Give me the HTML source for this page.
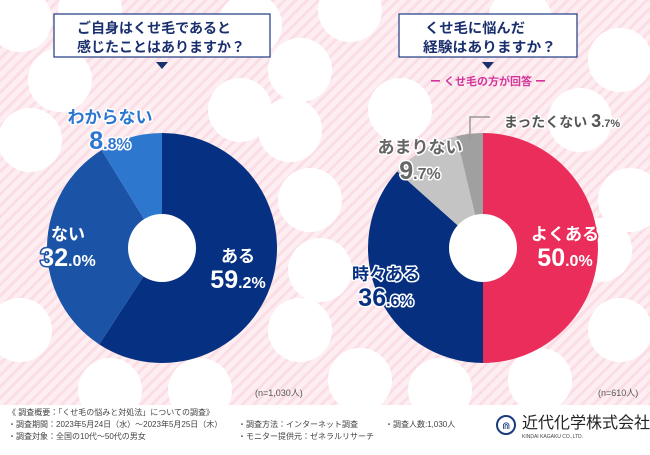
<!DOCTYPE html>
<html><head><meta charset="utf-8">
<style>
html,body{margin:0;padding:0;}
body{width:650px;height:450px;overflow:hidden;font-family:"Liberation Sans","Noto Sans CJK JP",sans-serif;}
svg text{font-family:"Liberation Sans","Noto Sans CJK JP",sans-serif;}
</style></head>
<body>
<svg id="c" width="650" height="450" xmlns="http://www.w3.org/2000/svg">
<defs>
<pattern id="st" width="8" height="8" patternUnits="userSpaceOnUse" patternTransform="rotate(45)">
<rect width="8" height="8" fill="#fdeef2"/><rect width="3" height="8" fill="#fbdde5"/>
</pattern>
</defs>
<rect width="650" height="405" fill="url(#st)"/>
<g id="bubbles" fill="#fff"></g>
<rect y="405" width="650" height="45" fill="#fff"/>

<g>
<rect x="54" y="14" width="216" height="43" fill="#fff" stroke="#1a3a80" stroke-width="1.2"/>
<text x="77" y="33" font-size="14" font-weight="bold" fill="#1a2f6e" textLength="154" lengthAdjust="spacingAndGlyphs">ご自身はくせ毛であると</text>
<text x="77" y="52" font-size="14" font-weight="bold" fill="#1a2f6e" textLength="168" lengthAdjust="spacingAndGlyphs">感じたことはありますか？</text>
<polygon points="156,62 168,62 162,69" fill="#1a2f6e"/>
</g>
<g>
<rect x="399" y="14" width="178" height="43" fill="#fff" stroke="#1a3a80" stroke-width="1.2"/>
<text x="425" y="33" font-size="14" font-weight="bold" fill="#1a2f6e" textLength="100" lengthAdjust="spacingAndGlyphs">くせ毛に悩んだ</text>
<text x="423" y="52" font-size="14" font-weight="bold" fill="#1a2f6e" textLength="133" lengthAdjust="spacingAndGlyphs">経験はありますか？</text>
<polygon points="482,62 494,62 488,69" fill="#1a2f6e"/>
<text x="488" y="85" font-size="11" fill="#d4359a" text-anchor="middle" font-weight="bold">ー くせ毛の方が回答 ー</text>
</g>

<g id="pies"></g>
<g id="labels" font-weight="bold" stroke-linejoin="round"></g>

<polyline points="470,140 470,117 490,117" fill="none" stroke="#999" stroke-width="1.5"/>

<text x="255" y="396" font-size="9" fill="#555">(n=1,030人)</text>
<text x="598" y="396" font-size="9" fill="#555">(n=610人)</text>

<g font-size="8" fill="#444">
<text x="8" y="415">《 調査概要：「くせ毛の悩みと対処法」についての調査》</text>
<text x="8" y="427">・調査期間：2023年5月24日（水）～2023年5月25日（木）</text>
<text x="8" y="439">・調査対象：全国の10代～50代の男女</text>
<text x="238" y="427">・調査方法：インターネット調査</text>
<text x="238" y="439">・モニター提供元：ゼネラルリサーチ</text>
<text x="385" y="427">・調査人数:1,030人</text>
</g>
<g>
<circle cx="506" cy="425" r="9" fill="none" stroke="#1a3a80" stroke-width="2"/>
<text x="502" y="429" font-size="10" fill="#1a3a80">⋒</text>
<text x="522" y="428" font-size="16" fill="#222">近代化学株式会社</text>
<text x="522" y="438" font-size="5" fill="#444">KINDAI KAGAKU CO.,LTD.</text>
</g>
</svg>
<script>
const leftCategories=["ある","ない","わからない"];
const leftValues=[59.2,32.0,8.8];
const leftColors=["#063182","#1b54a7","#2e77cf"];
const rightCategories=["よくある","時々ある","あまりない","まったくない"];
const rightValues=[50.0,36.6,9.7,3.7];
const rightColors=["#ea2d5a","#06307f","#c4c4c4","#a0a0a0"];

const NS="http://www.w3.org/2000/svg";
const bub=document.getElementById('bubbles');
[[20,20],[90,10],[250,25],[300,70],[240,110],[30,140],[20,330],[110,390],[200,390],[300,330],[310,200],[360,380],[440,390],[540,380],[620,330],[630,200],[620,60],[520,20],[580,120],[350,10],[60,80],[290,130],[400,110],[600,250],[320,270]].forEach(p=>{
 const c=document.createElementNS(NS,'circle');c.setAttribute('cx',p[0]);c.setAttribute('cy',p[1]);c.setAttribute('r',32);
 
 
 bub.appendChild(c);});

function pie(cx,cy,r,hole,vals,cols,name){
 const g=document.getElementById('pies');
 const tot=vals.reduce((a,b)=>a+b,0);let a0=0;
 vals.forEach((v,i)=>{
  const a1=a0+v/tot*2*Math.PI;
  const x0=cx+r*Math.sin(a0),y0=cy-r*Math.cos(a0),x1=cx+r*Math.sin(a1),y1=cy-r*Math.cos(a1);
  const p=document.createElementNS(NS,'path');
  p.setAttribute('d',`M${cx},${cy}L${x0},${y0}A${r},${r} 0 ${a1-a0>Math.PI?1:0} 1 ${x1},${y1}Z`);
  p.setAttribute('fill',cols[i]);
  
  
  g.appendChild(p);a0=a1;});
 const h=document.createElementNS(NS,'circle');h.setAttribute('cx',cx);h.setAttribute('cy',cy);h.setAttribute('r',hole);h.setAttribute('fill','#fff');
 
 
 g.appendChild(h);
}
pie(162,248,115,34,leftValues,leftColors,'left-pie');
pie(483,248,115,34,rightValues,rightColors,'right-pie');

const lg=document.getElementById('labels');
function lab(x,y,cat,val,fill,stroke,name,inline){
 const t=document.createElementNS(NS,'text');
 t.setAttribute('x',x);t.setAttribute('y',y);t.setAttribute('fill',fill);
 if(stroke){t.setAttribute('stroke',stroke);t.setAttribute('stroke-width','3');t.setAttribute('paint-order','stroke');}
 t.setAttribute('text-anchor','middle');
 
 
 const s=val.toFixed(1).split('.');
 if(inline){
  t.setAttribute('font-size','14');
  t.innerHTML=`${cat} <tspan font-size="18">${s[0]}</tspan><tspan font-size="11">.${s[1]}%</tspan>`;
 } else {
  t.innerHTML=`<tspan x="${x}" font-size="17">${cat}</tspan><tspan x="${x}" dy="26" font-size="25">${s[0]}</tspan><tspan font-size="16">.${s[1]}%</tspan>`;
 }
 lg.appendChild(t);
}
lab(238,262,leftCategories[0],leftValues[0],'#fff','#063182','label-aru');
lab(68,240,leftCategories[1],leftValues[1],'#fff','#1b54a7','label-nai');
lab(110,123,leftCategories[2],leftValues[2],'#2e77cf','#fff','label-wakaranai');
lab(565,240,rightCategories[0],rightValues[0],'#fff','#ea2d5a','label-yokuaru');
lab(386,280,rightCategories[1],rightValues[1],'#06307f','#fff','label-tokidoki');
lab(420,153,rightCategories[2],rightValues[2],'#666','#fff','label-amarinai');
lab(562,127,rightCategories[3],rightValues[3],'#555','#fff','label-mattakunai',true);
</script>
</body></html>
